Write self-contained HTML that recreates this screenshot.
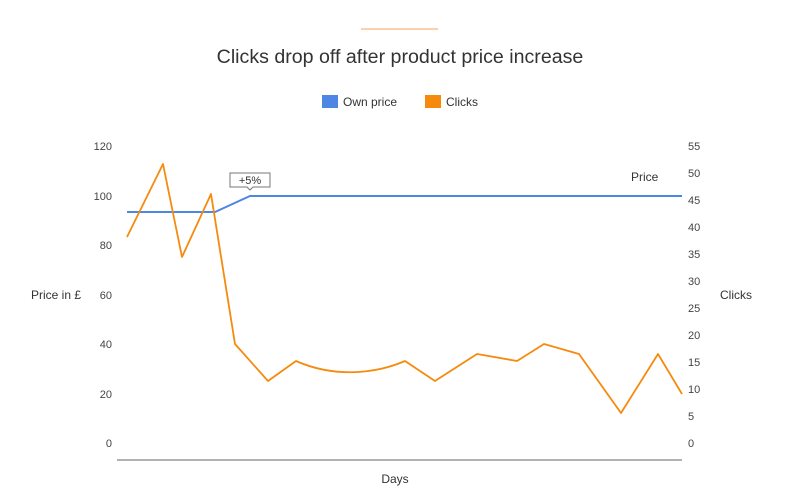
<!DOCTYPE html><html><head><style>body{margin:0;background:#fff}svg{font-family:"Liberation Sans",sans-serif}</style></head><body>
<svg width="800" height="496" viewBox="0 0 800 496" xmlns="http://www.w3.org/2000/svg">
<line x1="361" y1="29" x2="438" y2="29" stroke="#f5a25d" stroke-width="1"/>
<text x="400" y="63" font-size="19.6" fill="#333" text-anchor="middle">Clicks drop off after product price increase</text>
<rect x="322" y="95" width="16" height="13" fill="#4e86e4"/>
<text x="343" y="106" font-size="12" fill="#333">Own price</text>
<rect x="425" y="95" width="16" height="13" fill="#f68a0d"/>
<text x="446" y="106" font-size="12" fill="#333">Clicks</text>
<g font-size="11" fill="#444" text-anchor="end">
<text x="112" y="150">120</text><text x="112" y="200">100</text><text x="112" y="249">80</text><text x="112" y="299">60</text><text x="112" y="348">40</text><text x="112" y="398">20</text><text x="112" y="447">0</text>
</g>
<g font-size="11" fill="#444">
<text x="688" y="150">55</text><text x="688" y="177">50</text><text x="688" y="204">45</text><text x="688" y="231">40</text><text x="688" y="258">35</text><text x="688" y="285">30</text><text x="688" y="312">25</text><text x="688" y="339">20</text><text x="688" y="366">15</text><text x="688" y="393">10</text><text x="688" y="420">5</text><text x="688" y="447">0</text>
</g>
<text x="31" y="299" font-size="12" fill="#333">Price in £</text>
<text x="720" y="299" font-size="12" fill="#333">Clicks</text>
<text x="395" y="483" font-size="12" fill="#333" text-anchor="middle">Days</text>
<text x="631" y="181" font-size="12" fill="#333">Price</text>
<line x1="117" y1="460" x2="682" y2="460" stroke="#999" stroke-width="1.5"/>
<polyline fill="none" stroke="#4e86e4" stroke-width="2" points="127,212 215,212 250,196 682,196"/>
<path fill="none" stroke="#f68a0d" stroke-width="1.8" stroke-linejoin="round" d="M127,237 L163,164 L182,257 L211,194 L235,344 L268,381 L296,361 C330,376 370,376 405,361 L435,381 L477,354 L517,361 L544,344 L579,354 L621,413 L658,354 L682,394"/>
<path d="M230,173 h40 v14 h-17 l-3,3 l-3,-3 h-17 z" fill="#fff" stroke="#777" stroke-width="1"/>
<text x="250" y="184" font-size="11" fill="#333" text-anchor="middle">+5%</text>
</svg></body></html>
